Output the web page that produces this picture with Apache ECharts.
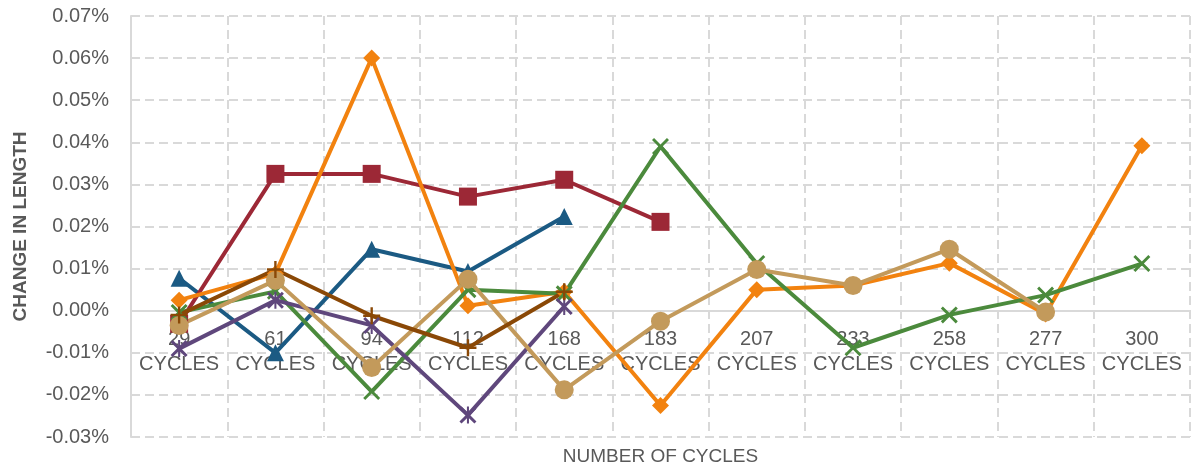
<!DOCTYPE html>
<html>
<head>
<meta charset="utf-8">
<script src="https://cdn.jsdelivr.net/npm/echarts@6/dist/echarts.min.js"></script>
<style>
html,body{margin:0;padding:0;background:#fff;}
#chart{width:1191px;height:475px;}
</style>
</head>
<body>
<div id="chart"></div>
<script>
// Categories (x axis labels)
const categories = ['29 CYCLES','61 CYCLES','94 CYCLES','112 CYCLES','168 CYCLES','183 CYCLES','207 CYCLES','233 CYCLES','258 CYCLES','277 CYCLES','300 CYCLES'];
// Y tick labels range (percent)
const yMin = -0.03, yMax = 0.07, yStep = 0.01;

// Series values (% change in length)
const blueTriangle = [0.0077, -0.0100, 0.0146, 0.0093, 0.0224];
const redSquare    = [-0.0031, 0.0325, 0.0325, 0.0271, 0.0311, 0.0211];
const orangeDiamond= [0.0025, 0.0088, 0.0600, 0.0012, 0.0045, -0.0225, 0.0050, 0.0060, 0.0113, -0.0008, 0.0392];
const greenX       = [-0.0004, 0.0046, -0.0192, 0.0050, 0.0040, 0.0390, 0.0112, -0.0088, -0.0010, 0.0037, 0.0112];
const purpleStar   = [-0.0090, 0.0025, -0.0035, -0.0248, 0.0010];
const tanCircle    = [-0.0035, 0.0072, -0.0135, 0.0075, -0.0188, -0.0025, 0.0098, 0.0060, 0.0146, -0.0003];
const brownPlus    = [-0.0010, 0.0098, -0.0012, -0.0088, 0.0045];

const X_PATH = 'path://M0,1.2 L1.2,0 L5,3.8 L8.8,0 L10,1.2 L6.2,5 L10,8.8 L8.8,10 L5,6.2 L1.2,10 L0,8.8 L3.8,5 Z';
const STAR_PATH = 'path://M0,1.2 L1.2,0 L5,3.8 L8.8,0 L10,1.2 L6.2,5 L10,8.8 L8.8,10 L5,6.2 L1.2,10 L0,8.8 L3.8,5 Z M4.4,0 L5.6,0 L5.6,10 L4.4,10 Z';
const PLUS_PATH = 'path://M4.3,0 L5.7,0 L5.7,4.3 L10,4.3 L10,5.7 L5.7,5.7 L5.7,10 L4.3,10 L4.3,5.7 L0,5.7 L0,4.3 L4.3,4.3 Z';

function mk(name, data, color, symbol, size) {
  return {
    name: name, type: 'line', data: data,
    symbol: symbol, symbolSize: size, showAllSymbol: true,
    lineStyle: {color: color, width: 4},
    itemStyle: {color: color, borderWidth: 0},
    emphasis: {disabled: true},
    z: 2
  };
}

const chart = echarts.init(document.getElementById('chart'), null, {renderer: 'canvas'});
chart.setOption({
  animation: false,
  backgroundColor: '#ffffff',
  grid: {left: 131, right: 1, top: 16, bottom: 38, containLabel: false, outerBoundsMode: 'none'},
  xAxis: {
    type: 'category',
    data: categories,
    boundaryGap: true,
    name: 'NUMBER OF CYCLES',
    nameLocation: 'middle',
    nameGap: 10,
    nameTextStyle: {fontFamily: 'Liberation Sans', fontSize: 19, color: '#595959'},
    axisLine: {onZero: true, lineStyle: {color: '#d9d9d9', width: 2}},
    axisTick: {show: false},
    axisLabel: {
      interval: 0, margin: -110,
      fontFamily: 'Liberation Sans', fontSize: 20, color: '#595959', lineHeight: 25,
      formatter: v => v.replace(' ', '\n')
    },
    splitLine: {show: true, lineStyle: {color: '#d9d9d9', width: 2, type: [9, 5]}}
  },
  yAxis: {
    type: 'value',
    min: yMin, max: yMax, interval: yStep,
    name: 'CHANGE IN LENGTH',
    nameLocation: 'middle',
    nameGap: 101,
    nameTextStyle: {fontFamily: 'Liberation Sans', fontSize: 19, fontWeight: 'bold', color: '#595959'},
    axisLine: {show: true, lineStyle: {color: '#d9d9d9', width: 2}},
    axisTick: {show: false},
    axisLabel: {
      margin: 22,
      fontFamily: 'Liberation Sans', fontSize: 20, color: '#595959',
      formatter: v => v.toFixed(2) + '%'
    },
    splitLine: {show: true, lineStyle: {color: '#d9d9d9', width: 2, type: [9, 5]}}
  },
  series: [
    mk('Series 1', blueTriangle, '#1b5a83', 'triangle', [17, 17]),
    mk('Series 2', redSquare, '#9c2836', 'rect', 18),
    mk('Series 3', orangeDiamond, '#f2820f', 'diamond', 17),
    mk('Series 4', greenX, '#4b8a3c', X_PATH, 17),
    mk('Series 5', purpleStar, '#5f477c', STAR_PATH, 17),
    mk('Series 6', tanCircle, '#c39a5b', 'circle', 19),
    mk('Series 7', brownPlus, '#8a4806', PLUS_PATH, 17)
  ]
});
</script>
</body>
</html>
